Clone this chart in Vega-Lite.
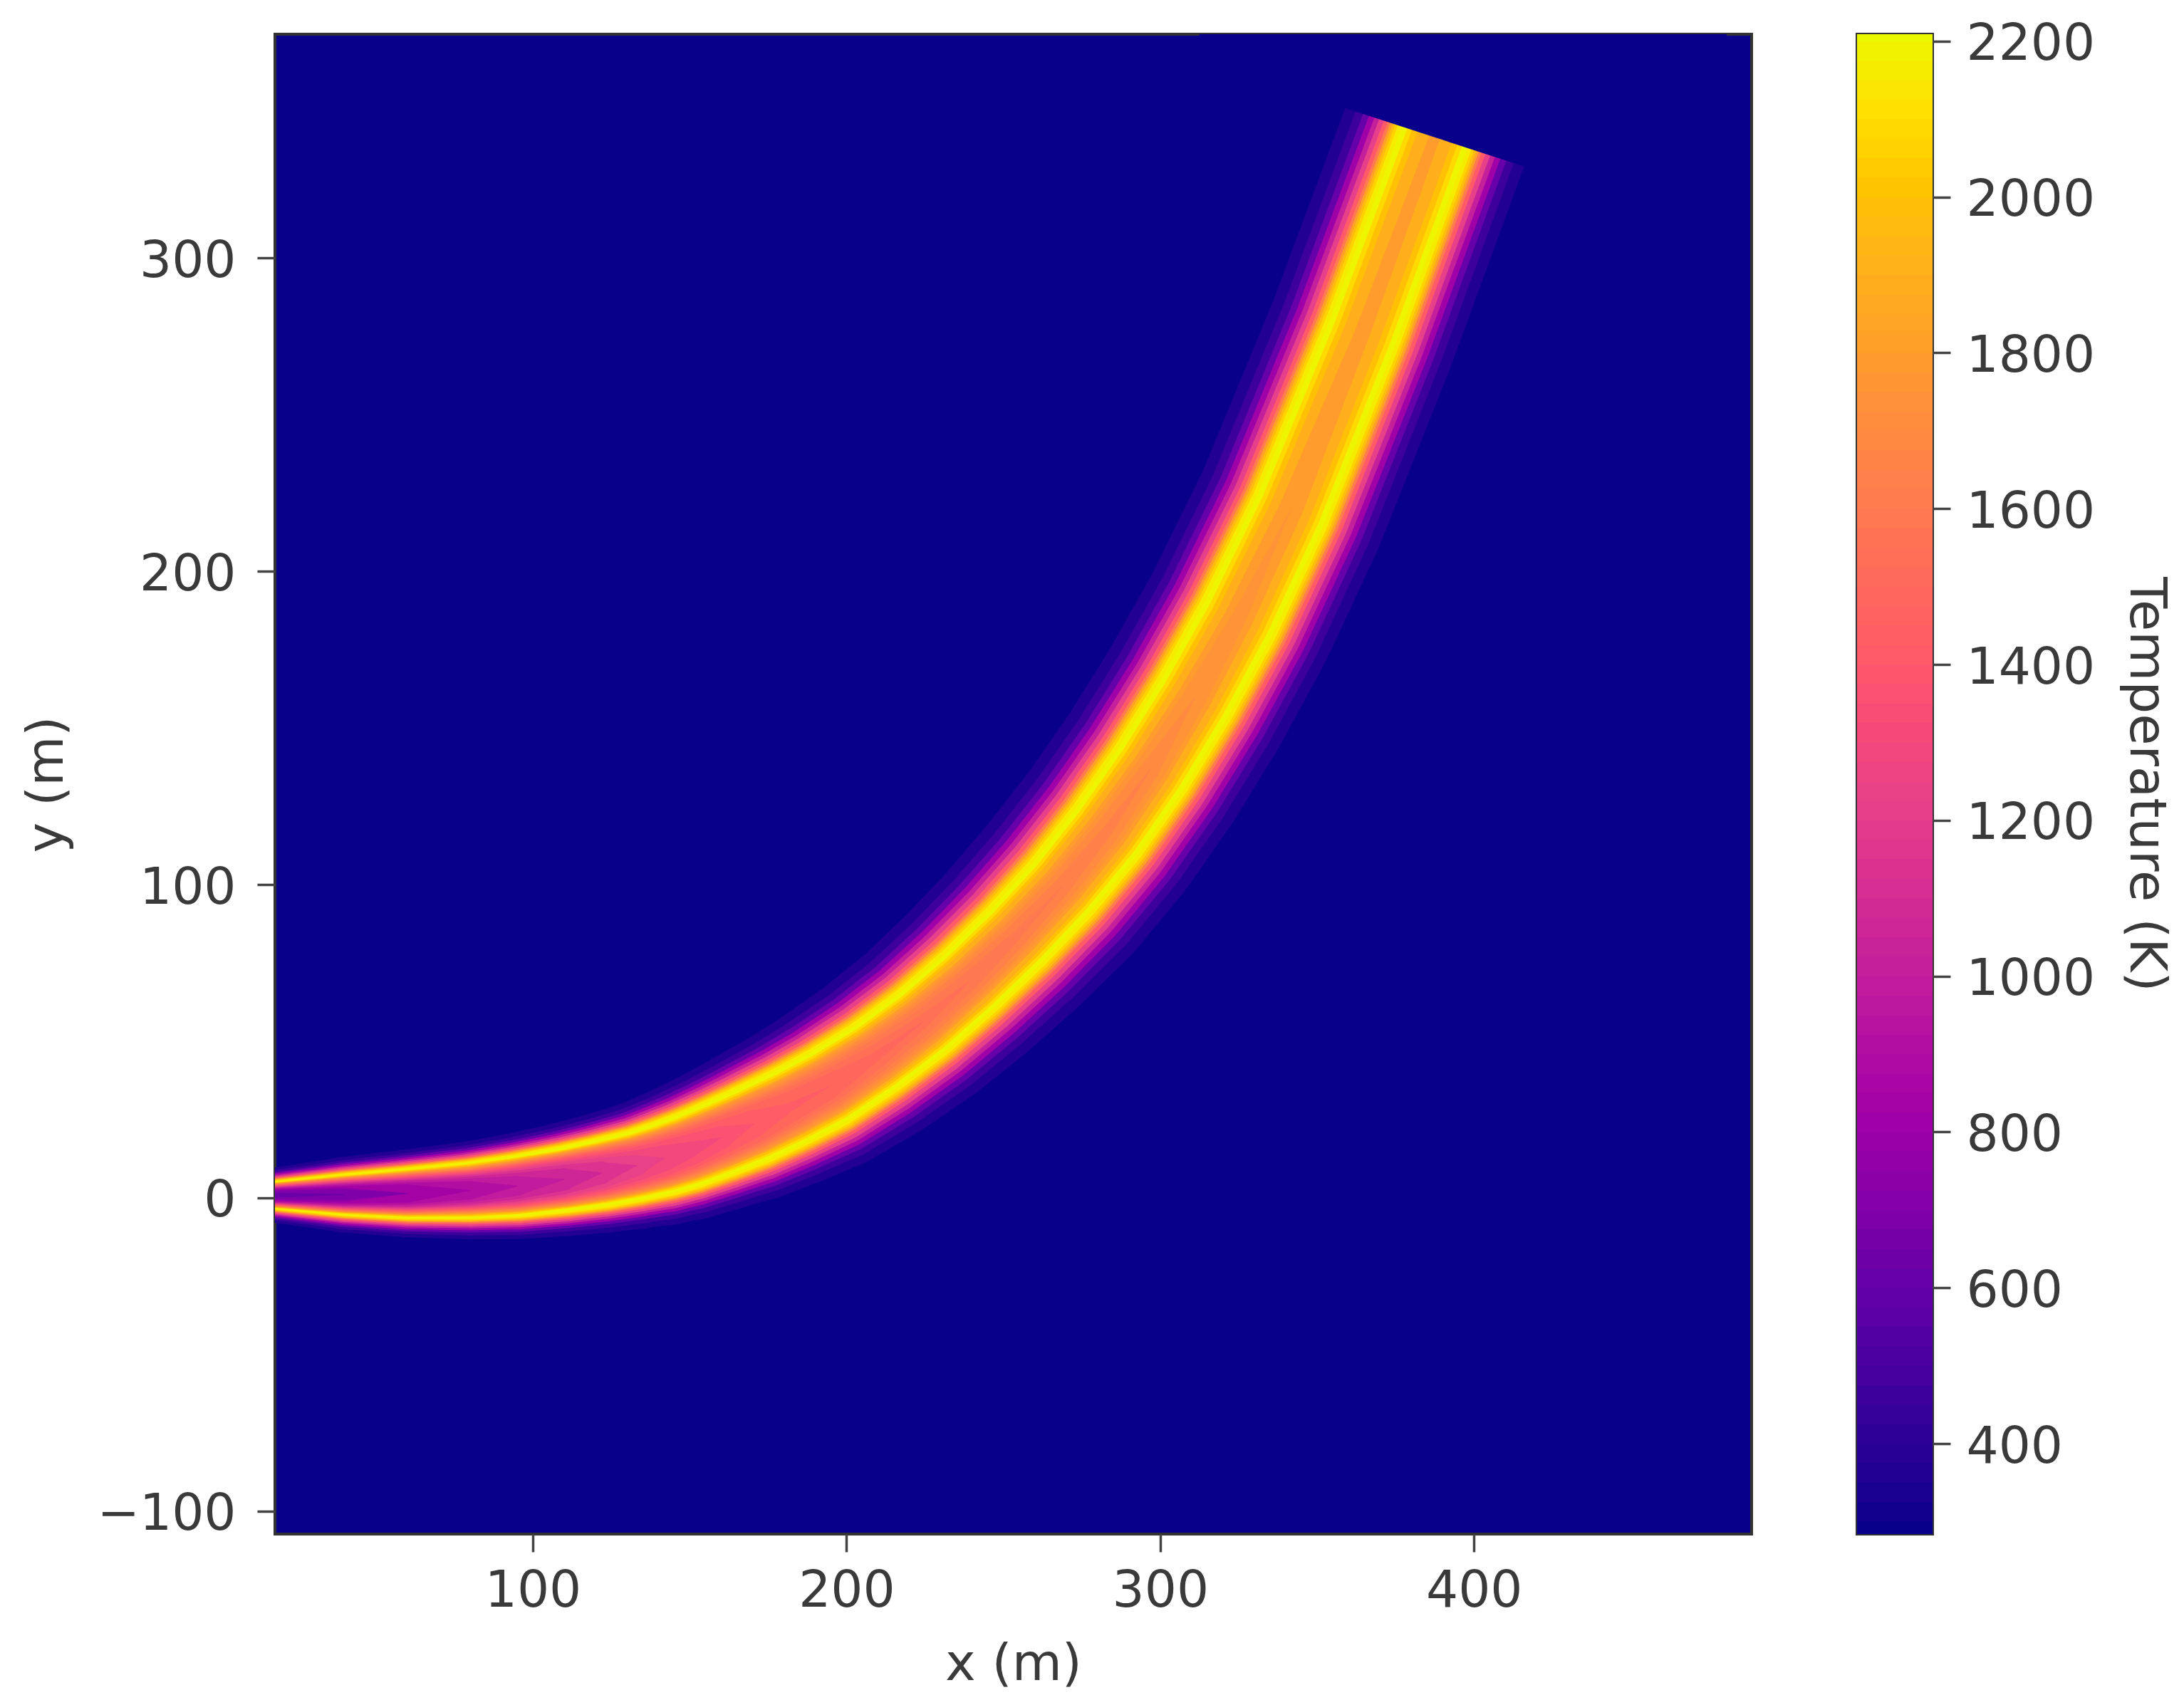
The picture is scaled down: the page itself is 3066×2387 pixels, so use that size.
{
"$schema":"https://vega.github.io/schema/vega-lite/v6.json",
"background":"white",
"padding":{"left":27,"top":24,"right":10,"bottom":10},
"spacing":144,
"config":{"view":{"stroke":"#333333","strokeWidth":4,"fill":"#08008a"},
"axis":{"grid":false,"domain":false,"tickSize":25,"tickWidth":3.5,"tickColor":"#444444","labelFont":"DejaVu Sans","labelFontSize":71,"labelColor":"#3a3a3a","labelLimit":400,"titleFont":"DejaVu Sans","titleFontSize":72,"titleFontWeight":"normal","titleColor":"#3a3a3a"}},
"datasets":{
"stations":[{"s":"A","x":10,"y":0.8},{"s":"B","x":40,"y":1},{"s":"a","x":60,"y":1.4},{"s":"C","x":80,"y":2.4},{"s":"b","x":95,"y":3.8},{"s":"D","x":110,"y":5.9},{"s":"c","x":122,"y":8},{"s":"E","x":133,"y":10.3},{"s":"d","x":142,"y":12.7},{"s":"F","x":150,"y":15.3},{"s":"e","x":160,"y":19.2},{"s":"G","x":170.5,"y":23.6},{"s":"f","x":182,"y":29},{"s":"H","x":194.1,"y":35.3},{"s":"I","x":209,"y":44.8},{"s":"J","x":224.1,"y":56},{"s":"K","x":239,"y":69},{"s":"L","x":254,"y":83.5},{"s":"M","x":268.8,"y":99.4},{"s":"N","x":283,"y":117},{"s":"O","x":297,"y":137},{"s":"P","x":310.9,"y":159.5},{"s":"Q","x":325,"y":185},{"s":"R","x":341.5,"y":219.5},{"s":"S","x":364.4,"y":276},{"s":"T","x":389.5,"y":344}],
"plume":[
{"T":350,"s":"A","w":15.4},{"T":350,"s":"B","w":24.2},{"T":350,"s":"a","w":28.1},{"T":350,"s":"C","w":31.3},{"T":350,"s":"b","w":34},{"T":350,"s":"D","w":36.4},{"T":350,"s":"c","w":38.5},{"T":350,"s":"E","w":40.6},{"T":350,"s":"d","w":43.1},{"T":350,"s":"F","w":44.9},{"T":350,"s":"e","w":47},{"T":350,"s":"G","w":49.5},{"T":350,"s":"f","w":51.4},{"T":350,"s":"H","w":53.7},{"T":350,"s":"I","w":55.2},{"T":350,"s":"J","w":56.7},{"T":350,"s":"K","w":58.4},{"T":350,"s":"L","w":60.1},{"T":350,"s":"M","w":62},{"T":350,"s":"N","w":62.6},{"T":350,"s":"O","w":62.6},{"T":350,"s":"P","w":62.4},{"T":350,"s":"Q","w":62},{"T":350,"s":"R","w":61.2},{"T":350,"s":"S","w":60.4},{"T":350,"s":"T","w":60},
{"T":450,"s":"A","w":13.8},{"T":450,"s":"B","w":22.1},{"T":450,"s":"a","w":25.8},{"T":450,"s":"C","w":28.8},{"T":450,"s":"b","w":31.3},{"T":450,"s":"D","w":33.4},{"T":450,"s":"c","w":35.4},{"T":450,"s":"E","w":37.2},{"T":450,"s":"d","w":39.4},{"T":450,"s":"F","w":41},{"T":450,"s":"e","w":42.8},{"T":450,"s":"G","w":45},{"T":450,"s":"f","w":46.5},{"T":450,"s":"H","w":48.4},{"T":450,"s":"I","w":49.4},{"T":450,"s":"J","w":50.6},{"T":450,"s":"K","w":51.9},{"T":450,"s":"L","w":53.4},{"T":450,"s":"M","w":55},{"T":450,"s":"N","w":55.6},{"T":450,"s":"O","w":55.6},{"T":450,"s":"P","w":55.4},{"T":450,"s":"Q","w":55},{"T":450,"s":"R","w":54.2},{"T":450,"s":"S","w":53.4},{"T":450,"s":"T","w":53},
{"T":600,"s":"A","w":12.7},{"T":600,"s":"B","w":20.6},{"T":600,"s":"a","w":24.2},{"T":600,"s":"C","w":27},{"T":600,"s":"b","w":29.3},{"T":600,"s":"D","w":31.3},{"T":600,"s":"c","w":33.1},{"T":600,"s":"E","w":34.7},{"T":600,"s":"d","w":36.8},{"T":600,"s":"F","w":38.2},{"T":600,"s":"e","w":39.8},{"T":600,"s":"G","w":41.7},{"T":600,"s":"f","w":43},{"T":600,"s":"H","w":44.6},{"T":600,"s":"I","w":45.3},{"T":600,"s":"J","w":46.2},{"T":600,"s":"K","w":47.3},{"T":600,"s":"L","w":48.6},{"T":600,"s":"M","w":50},{"T":600,"s":"N","w":50.6},{"T":600,"s":"O","w":50.6},{"T":600,"s":"P","w":50.4},{"T":600,"s":"Q","w":50},{"T":600,"s":"R","w":49.2},{"T":600,"s":"S","w":48.4},{"T":600,"s":"T","w":48},
{"T":800,"s":"A","w":11.8},{"T":800,"s":"B","w":19.4},{"T":800,"s":"a","w":22.9},{"T":800,"s":"C","w":25.5},{"T":800,"s":"b","w":27.8},{"T":800,"s":"D","w":29.6},{"T":800,"s":"c","w":31.3},{"T":800,"s":"E","w":32.8},{"T":800,"s":"d","w":34.7},{"T":800,"s":"F","w":35.9},{"T":800,"s":"e","w":37.4},{"T":800,"s":"G","w":39.1},{"T":800,"s":"f","w":40.2},{"T":800,"s":"H","w":41.5},{"T":800,"s":"I","w":42},{"T":800,"s":"J","w":42.7},{"T":800,"s":"K","w":43.6},{"T":800,"s":"L","w":44.7},{"T":800,"s":"M","w":46},{"T":800,"s":"N","w":46.6},{"T":800,"s":"O","w":46.6},{"T":800,"s":"P","w":46.4},{"T":800,"s":"Q","w":46},{"T":800,"s":"R","w":45.2},{"T":800,"s":"S","w":44.4},{"T":800,"s":"T","w":44},
{"T":1000,"s":"A","w":11},{"T":1000,"s":"B","w":18.3},{"T":1000,"s":"a","w":21.7},{"T":1000,"s":"C","w":24.2},{"T":1000,"s":"b","w":26.4},{"T":1000,"s":"D","w":28.1},{"T":1000,"s":"c","w":29.7},{"T":1000,"s":"E","w":31},{"T":1000,"s":"d","w":32.8},{"T":1000,"s":"F","w":33.9},{"T":1000,"s":"e","w":35.2},{"T":1000,"s":"G","w":36.8},{"T":1000,"s":"f","w":37.7},{"T":1000,"s":"H","w":38.8},{"T":1000,"s":"I","w":39.1},{"T":1000,"s":"J","w":39.6},{"T":1000,"s":"K","w":40.3},{"T":1000,"s":"L","w":41.3},{"T":1000,"s":"M","w":42.4},{"T":1000,"s":"N","w":43},{"T":1000,"s":"O","w":43},{"T":1000,"s":"P","w":42.8},{"T":1000,"s":"Q","w":42.4},{"T":1000,"s":"R","w":41.6},{"T":1000,"s":"S","w":40.8},{"T":1000,"s":"T","w":40.4},
{"T":1200,"s":"A","w":10.3},{"T":1200,"s":"B","w":17.4},{"T":1200,"s":"a","w":20.6},{"T":1200,"s":"C","w":23.1},{"T":1200,"s":"b","w":25.1},{"T":1200,"s":"D","w":26.8},{"T":1200,"s":"c","w":28.2},{"T":1200,"s":"E","w":29.4},{"T":1200,"s":"d","w":31.1},{"T":1200,"s":"F","w":32.1},{"T":1200,"s":"e","w":33.3},{"T":1200,"s":"G","w":34.7},{"T":1200,"s":"f","w":35.4},{"T":1200,"s":"H","w":36.4},{"T":1200,"s":"I","w":36.5},{"T":1200,"s":"J","w":36.8},{"T":1200,"s":"K","w":37.4},{"T":1200,"s":"L","w":38.2},{"T":1200,"s":"M","w":39.2},{"T":1200,"s":"N","w":39.8},{"T":1200,"s":"O","w":39.8},{"T":1200,"s":"P","w":39.6},{"T":1200,"s":"Q","w":39.2},{"T":1200,"s":"R","w":38.4},{"T":1200,"s":"S","w":37.6},{"T":1200,"s":"T","w":37.2},
{"T":1400,"s":"A","w":9.6},{"T":1400,"s":"B","w":16.4},{"T":1400,"s":"a","w":19.6},{"T":1400,"s":"C","w":21.9},{"T":1400,"s":"b","w":23.9},{"T":1400,"s":"D","w":25.4},{"T":1400,"s":"c","w":26.8},{"T":1400,"s":"E","w":27.9},{"T":1400,"s":"d","w":29.4},{"T":1400,"s":"F","w":30.3},{"T":1400,"s":"e","w":31.4},{"T":1400,"s":"G","w":32.6},{"T":1400,"s":"f","w":33.2},{"T":1400,"s":"H","w":33.9},{"T":1400,"s":"I","w":33.8},{"T":1400,"s":"J","w":34},{"T":1400,"s":"K","w":34.4},{"T":1400,"s":"L","w":35.1},{"T":1400,"s":"M","w":36},{"T":1400,"s":"N","w":36.6},{"T":1400,"s":"O","w":36.6},{"T":1400,"s":"P","w":36.4},{"T":1400,"s":"Q","w":36},{"T":1400,"s":"R","w":35.2},{"T":1400,"s":"S","w":34.4},{"T":1400,"s":"T","w":34},
{"T":1600,"s":"A","w":9.1},{"T":1600,"s":"B","w":15.6},{"T":1600,"s":"a","w":18.7},{"T":1600,"s":"C","w":21},{"T":1600,"s":"b","w":22.9},{"T":1600,"s":"D","w":24.3},{"T":1600,"s":"c","w":25.6},{"T":1600,"s":"E","w":26.6},{"T":1600,"s":"d","w":28},{"T":1600,"s":"F","w":28.9},{"T":1600,"s":"e","w":29.8},{"T":1600,"s":"G","w":30.9},{"T":1600,"s":"f","w":31.4},{"T":1600,"s":"H","w":31.9},{"T":1600,"s":"I","w":31.7},{"T":1600,"s":"J","w":31.8},{"T":1600,"s":"K","w":32},{"T":1600,"s":"L","w":32.6},{"T":1600,"s":"M","w":33.4},{"T":1600,"s":"N","w":34},{"T":1600,"s":"O","w":34},{"T":1600,"s":"P","w":33.8},{"T":1600,"s":"Q","w":33.4},{"T":1600,"s":"R","w":32.6},{"T":1600,"s":"S","w":31.8},{"T":1600,"s":"T","w":31.4},
{"T":1800,"s":"A","w":8.7},{"T":1800,"s":"B","w":15.1},{"T":1800,"s":"a","w":18.1},{"T":1800,"s":"C","w":20.3},{"T":1800,"s":"b","w":22.2},{"T":1800,"s":"D","w":23.6},{"T":1800,"s":"c","w":24.8},{"T":1800,"s":"E","w":25.7},{"T":1800,"s":"d","w":27},{"T":1800,"s":"F","w":27.9},{"T":1800,"s":"e","w":28.8},{"T":1800,"s":"G","w":29.7},{"T":1800,"s":"f","w":30.1},{"T":1800,"s":"H","w":30.6},{"T":1800,"s":"I","w":30.2},{"T":1800,"s":"J","w":30.2},{"T":1800,"s":"K","w":30.4},{"T":1800,"s":"L","w":30.9},{"T":1800,"s":"M","w":31.6},{"T":1800,"s":"N","w":32.2},{"T":1800,"s":"O","w":32.2},{"T":1800,"s":"P","w":32},{"T":1800,"s":"Q","w":31.6},{"T":1800,"s":"R","w":30.8},{"T":1800,"s":"S","w":30},{"T":1800,"s":"T","w":29.6},
{"T":1950,"s":"A","w":8.3},{"T":1950,"s":"B","w":14.6},{"T":1950,"s":"a","w":17.6},{"T":1950,"s":"C","w":19.8},{"T":1950,"s":"b","w":21.5},{"T":1950,"s":"D","w":22.9},{"T":1950,"s":"c","w":24.1},{"T":1950,"s":"E","w":24.9},{"T":1950,"s":"d","w":26.2},{"T":1950,"s":"F","w":27},{"T":1950,"s":"e","w":27.8},{"T":1950,"s":"G","w":28.7},{"T":1950,"s":"f","w":29},{"T":1950,"s":"H","w":29.4},{"T":1950,"s":"I","w":28.9},{"T":1950,"s":"J","w":28.8},{"T":1950,"s":"K","w":28.9},{"T":1950,"s":"L","w":29.4},{"T":1950,"s":"M","w":30},{"T":1950,"s":"N","w":30.6},{"T":1950,"s":"O","w":30.6},{"T":1950,"s":"P","w":30.4},{"T":1950,"s":"Q","w":30},{"T":1950,"s":"R","w":29.2},{"T":1950,"s":"S","w":28.4},{"T":1950,"s":"T","w":28},
{"T":2050,"s":"A","w":8},{"T":2050,"s":"B","w":14.1},{"T":2050,"s":"a","w":17.1},{"T":2050,"s":"C","w":19.2},{"T":2050,"s":"b","w":20.9},{"T":2050,"s":"D","w":22.2},{"T":2050,"s":"c","w":23.4},{"T":2050,"s":"E","w":24.2},{"T":2050,"s":"d","w":25.3},{"T":2050,"s":"F","w":26.1},{"T":2050,"s":"e","w":26.8},{"T":2050,"s":"G","w":27.7},{"T":2050,"s":"f","w":27.9},{"T":2050,"s":"H","w":28.1},{"T":2050,"s":"I","w":27.6},{"T":2050,"s":"J","w":27.4},{"T":2050,"s":"K","w":27.4},{"T":2050,"s":"L","w":27.8},{"T":2050,"s":"M","w":28.4},{"T":2050,"s":"N","w":29},{"T":2050,"s":"O","w":29},{"T":2050,"s":"P","w":28.8},{"T":2050,"s":"Q","w":28.4},{"T":2050,"s":"R","w":27.6},{"T":2050,"s":"S","w":26.8},{"T":2050,"s":"T","w":26.4},
{"T":2150,"s":"A","w":7.6},{"T":2150,"s":"B","w":13.6},{"T":2150,"s":"a","w":16.5},{"T":2150,"s":"C","w":18.5},{"T":2150,"s":"b","w":20.2},{"T":2150,"s":"D","w":21.5},{"T":2150,"s":"c","w":22.6},{"T":2150,"s":"E","w":23.3},{"T":2150,"s":"d","w":24.4},{"T":2150,"s":"F","w":25.1},{"T":2150,"s":"e","w":25.8},{"T":2150,"s":"G","w":26.5},{"T":2150,"s":"f","w":26.6},{"T":2150,"s":"H","w":26.8},{"T":2150,"s":"I","w":26.1},{"T":2150,"s":"J","w":25.9},{"T":2150,"s":"K","w":25.8},{"T":2150,"s":"L","w":26.1},{"T":2150,"s":"M","w":26.6},{"T":2150,"s":"N","w":27.2},{"T":2150,"s":"O","w":27.2},{"T":2150,"s":"P","w":27},{"T":2150,"s":"Q","w":26.6},{"T":2150,"s":"R","w":25.8},{"T":2150,"s":"S","w":25},{"T":2150,"s":"T","w":24.6},
{"T":2190,"s":"A","w":7},{"T":2190,"s":"B","w":12.8},{"T":2190,"s":"a","w":15.6},{"T":2190,"s":"C","w":17.6},{"T":2190,"s":"b","w":19.2},{"T":2190,"s":"D","w":20.4},{"T":2190,"s":"c","w":21.4},{"T":2190,"s":"E","w":22},{"T":2190,"s":"d","w":23},{"T":2190,"s":"F","w":23.6},{"T":2190,"s":"e","w":24.2},{"T":2190,"s":"G","w":24.8},{"T":2190,"s":"f","w":24.8},{"T":2190,"s":"H","w":24.8},{"T":2190,"s":"I","w":24},{"T":2190,"s":"J","w":23.6},{"T":2190,"s":"K","w":23.4},{"T":2190,"s":"L","w":23.6},{"T":2190,"s":"M","w":24},{"T":2190,"s":"N","w":24.6},{"T":2190,"s":"O","w":24.6},{"T":2190,"s":"P","w":24.4},{"T":2190,"s":"Q","w":24},{"T":2190,"s":"R","w":23.2},{"T":2190,"s":"S","w":22.4},{"T":2190,"s":"T","w":22},
{"T":2080,"s":"A","w":6.8},{"T":2080,"s":"B","w":12.4},{"T":2080,"s":"a","w":15},{"T":2080,"s":"C","w":16.9},{"T":2080,"s":"b","w":18},{"T":2080,"s":"D","w":18.7},{"T":2080,"s":"c","w":19.6},{"T":2080,"s":"E","w":20.1},{"T":2080,"s":"d","w":21},{"T":2080,"s":"F","w":21.5},{"T":2080,"s":"e","w":21.9},{"T":2080,"s":"G","w":22.4},{"T":2080,"s":"f","w":22.4},{"T":2080,"s":"H","w":22.3},{"T":2080,"s":"I","w":21.4},{"T":2080,"s":"J","w":21},{"T":2080,"s":"K","w":20.7},{"T":2080,"s":"L","w":20.8},{"T":2080,"s":"M","w":21},{"T":2080,"s":"N","w":21.5},{"T":2080,"s":"O","w":21.4},{"T":2080,"s":"P","w":21},{"T":2080,"s":"Q","w":20.5},{"T":2080,"s":"R","w":19.7},{"T":2080,"s":"S","w":18.8},{"T":2080,"s":"T","w":18.3},
{"T":1980,"s":"A","w":6.6},{"T":1980,"s":"B","w":11.9},{"T":1980,"s":"a","w":14.5},{"T":1980,"s":"C","w":16.2},{"T":1980,"s":"b","w":17.6},{"T":1980,"s":"D","w":18.1},{"T":1980,"s":"c","w":18.8},{"T":1980,"s":"E","w":19.2},{"T":1980,"s":"d","w":19.9},{"T":1980,"s":"F","w":20.3},{"T":1980,"s":"e","w":20.7},{"T":1980,"s":"G","w":21},{"T":1980,"s":"f","w":20.9},{"T":1980,"s":"H","w":20.7},{"T":1980,"s":"I","w":19.8},{"T":1980,"s":"J","w":19.3},{"T":1980,"s":"K","w":18.9},{"T":1980,"s":"L","w":18.8},{"T":1980,"s":"M","w":18.9},{"T":1980,"s":"N","w":19.2},{"T":1980,"s":"O","w":18.9},{"T":1980,"s":"P","w":18.4},{"T":1980,"s":"Q","w":17.7},{"T":1980,"s":"R","w":16.8},{"T":1980,"s":"S","w":15.7},{"T":1980,"s":"T","w":15.2},
{"T":1880,"s":"A","w":6.4},{"T":1880,"s":"B","w":11.5},{"T":1880,"s":"a","w":13.9},{"T":1880,"s":"C","w":15.5},{"T":1880,"s":"b","w":16.7},{"T":1880,"s":"D","w":17.6},{"T":1880,"s":"c","w":18.2},{"T":1880,"s":"E","w":18.4},{"T":1880,"s":"d","w":19},{"T":1880,"s":"F","w":19.3},{"T":1880,"s":"e","w":19.5},{"T":1880,"s":"G","w":19.7},{"T":1880,"s":"f","w":19.4},{"T":1880,"s":"H","w":19.2},{"T":1880,"s":"I","w":18.2},{"T":1880,"s":"J","w":17.5},{"T":1880,"s":"K","w":17.1},{"T":1880,"s":"L","w":16.8},{"T":1880,"s":"M","w":16.7},{"T":1880,"s":"N","w":16.8},{"T":1880,"s":"O","w":16.2},{"T":1880,"s":"P","w":15.4},{"T":1880,"s":"Q","w":14.4},{"T":1880,"s":"R","w":13.4},{"T":1880,"s":"S","w":12},{"T":1880,"s":"T","w":11.4},
{"T":1780,"s":"A","w":6.3},{"T":1780,"s":"B","w":11.2},{"T":1780,"s":"a","w":13.7},{"T":1780,"s":"C","w":15.1},{"T":1780,"s":"b","w":16.3},{"T":1780,"s":"D","w":17.2},{"T":1780,"s":"c","w":17.7},{"T":1780,"s":"E","w":17.8},{"T":1780,"s":"d","w":18.4},{"T":1780,"s":"F","w":18.6},{"T":1780,"s":"e","w":18.8},{"T":1780,"s":"G","w":18.9},{"T":1780,"s":"f","w":18.4},{"T":1780,"s":"H","w":18.1},{"T":1780,"s":"I","w":16.8},{"T":1780,"s":"J","w":15.5},{"T":1780,"s":"K","w":14.3},{"T":1780,"s":"L","w":13.8},{"T":1780,"s":"M","w":13.4},{"T":1780,"s":"N","w":13.2},{"T":1780,"s":"O","w":12.2},{"T":1780,"s":"P","w":10.9},{"T":1780,"s":"Q","w":9.3},{"T":1780,"s":"R","w":7.7},{"T":1780,"s":"S","w":4.9},{"T":1780,"s":"T","w":3.4},
{"T":1730,"s":"A","w":6.1},{"T":1730,"s":"B","w":11.1},{"T":1730,"s":"a","w":13.3},{"T":1730,"s":"C","w":14.7},{"T":1730,"s":"b","w":15.9},{"T":1730,"s":"D","w":16.7},{"T":1730,"s":"c","w":17.1},{"T":1730,"s":"E","w":17.2},{"T":1730,"s":"d","w":17.7},{"T":1730,"s":"F","w":17.9},{"T":1730,"s":"e","w":18},{"T":1730,"s":"G","w":18},{"T":1730,"s":"f","w":17.4},{"T":1730,"s":"H","w":16.9},{"T":1730,"s":"I","w":15.2},{"T":1730,"s":"J","w":14},{"T":1730,"s":"K","w":12.8},{"T":1730,"s":"L","w":12.1},{"T":1730,"s":"M","w":11.4},{"T":1730,"s":"N","w":10.9},{"T":1730,"s":"O","w":9.6},{"T":1730,"s":"P","w":7.7},{"T":1730,"s":"Q","w":4.9},{"T":1730,"s":"R","w":0},
{"T":1680,"s":"A","w":5.9},{"T":1680,"s":"B","w":10.9},{"T":1680,"s":"a","w":13},{"T":1680,"s":"C","w":14.2},{"T":1680,"s":"b","w":15.4},{"T":1680,"s":"D","w":16.2},{"T":1680,"s":"c","w":16.6},{"T":1680,"s":"E","w":16.7},{"T":1680,"s":"d","w":17},{"T":1680,"s":"F","w":17.1},{"T":1680,"s":"e","w":17.1},{"T":1680,"s":"G","w":17},{"T":1680,"s":"f","w":16.2},{"T":1680,"s":"H","w":15.7},{"T":1680,"s":"I","w":14},{"T":1680,"s":"J","w":12.6},{"T":1680,"s":"K","w":11.3},{"T":1680,"s":"L","w":10},{"T":1680,"s":"M","w":8.9},{"T":1680,"s":"N","w":8},{"T":1680,"s":"O","w":5.9},{"T":1680,"s":"P","w":0},
{"T":1630,"s":"A","w":5.8},{"T":1630,"s":"B","w":10.6},{"T":1630,"s":"a","w":12.7},{"T":1630,"s":"C","w":13.8},{"T":1630,"s":"b","w":15},{"T":1630,"s":"D","w":15.7},{"T":1630,"s":"c","w":16.1},{"T":1630,"s":"E","w":16.1},{"T":1630,"s":"d","w":16.3},{"T":1630,"s":"F","w":16.3},{"T":1630,"s":"e","w":16.2},{"T":1630,"s":"G","w":16},{"T":1630,"s":"f","w":14.9},{"T":1630,"s":"H","w":14.3},{"T":1630,"s":"I","w":12.4},{"T":1630,"s":"J","w":10.6},{"T":1630,"s":"K","w":9},{"T":1630,"s":"L","w":7.4},{"T":1630,"s":"M","w":5.4},{"T":1630,"s":"N","w":3.3},{"T":1630,"s":"O","w":0},
{"T":1580,"s":"A","w":5.7},{"T":1580,"s":"B","w":10.3},{"T":1580,"s":"a","w":12.4},{"T":1580,"s":"C","w":13.4},{"T":1580,"s":"b","w":14.6},{"T":1580,"s":"D","w":15.2},{"T":1580,"s":"c","w":15.5},{"T":1580,"s":"E","w":15.4},{"T":1580,"s":"d","w":15.6},{"T":1580,"s":"F","w":15.5},{"T":1580,"s":"e","w":15.2},{"T":1580,"s":"G","w":14.8},{"T":1580,"s":"f","w":13.5},{"T":1580,"s":"H","w":12.7},{"T":1580,"s":"I","w":10.4},{"T":1580,"s":"J","w":8},{"T":1580,"s":"K","w":5.9},{"T":1580,"s":"L","w":3},{"T":1580,"s":"M","w":0},
{"T":1530,"s":"A","w":5.5},{"T":1530,"s":"B","w":10},{"T":1530,"s":"a","w":12.1},{"T":1530,"s":"C","w":13},{"T":1530,"s":"b","w":14.2},{"T":1530,"s":"D","w":14.8},{"T":1530,"s":"c","w":15},{"T":1530,"s":"E","w":14.7},{"T":1530,"s":"d","w":14.8},{"T":1530,"s":"F","w":14.6},{"T":1530,"s":"e","w":14.2},{"T":1530,"s":"G","w":13.6},{"T":1530,"s":"f","w":11.8},{"T":1530,"s":"H","w":10.7},{"T":1530,"s":"I","w":7.7},{"T":1530,"s":"J","w":4.1},{"T":1530,"s":"K","w":0},
{"T":1480,"s":"A","w":5.4},{"T":1480,"s":"B","w":9.8},{"T":1480,"s":"a","w":11.8},{"T":1480,"s":"C","w":12.8},{"T":1480,"s":"b","w":13.9},{"T":1480,"s":"D","w":14.4},{"T":1480,"s":"c","w":14.4},{"T":1480,"s":"E","w":14},{"T":1480,"s":"d","w":13.9},{"T":1480,"s":"F","w":13.6},{"T":1480,"s":"e","w":13},{"T":1480,"s":"G","w":12},{"T":1480,"s":"f","w":9.6},{"T":1480,"s":"H","w":8},{"T":1480,"s":"I","w":3},{"T":1480,"s":"J","w":0},
{"T":1410,"s":"A","w":5.2},{"T":1410,"s":"B","w":9.5},{"T":1410,"s":"a","w":11.4},{"T":1410,"s":"C","w":12.3},{"T":1410,"s":"b","w":13.3},{"T":1410,"s":"D","w":13.7},{"T":1410,"s":"c","w":13.6},{"T":1410,"s":"E","w":12.9},{"T":1410,"s":"d","w":12.6},{"T":1410,"s":"F","w":12},{"T":1410,"s":"e","w":10.9},{"T":1410,"s":"G","w":8.8},{"T":1410,"s":"f","w":2.7},{"T":1410,"s":"H","w":0},
{"T":1350,"s":"A","w":5},{"T":1350,"s":"B","w":9.2},{"T":1350,"s":"a","w":11},{"T":1350,"s":"C","w":11.8},{"T":1350,"s":"b","w":12.7},{"T":1350,"s":"D","w":13},{"T":1350,"s":"c","w":12.7},{"T":1350,"s":"E","w":11.6},{"T":1350,"s":"d","w":11},{"T":1350,"s":"F","w":10},{"T":1350,"s":"e","w":7.5},{"T":1350,"s":"G","w":0},
{"T":1280,"s":"A","w":4.8},{"T":1280,"s":"B","w":8.9},{"T":1280,"s":"a","w":10.5},{"T":1280,"s":"C","w":11.2},{"T":1280,"s":"b","w":11.9},{"T":1280,"s":"D","w":12},{"T":1280,"s":"c","w":11.4},{"T":1280,"s":"E","w":9.8},{"T":1280,"s":"d","w":8.2},{"T":1280,"s":"F","w":5.2},{"T":1280,"s":"e","w":0},
{"T":1210,"s":"A","w":4.6},{"T":1210,"s":"B","w":8.5},{"T":1210,"s":"a","w":10},{"T":1210,"s":"C","w":10.5},{"T":1210,"s":"b","w":11},{"T":1210,"s":"D","w":11},{"T":1210,"s":"c","w":9.8},{"T":1210,"s":"E","w":6.8},{"T":1210,"s":"d","w":0},
{"T":1130,"s":"A","w":4.4},{"T":1130,"s":"B","w":8},{"T":1130,"s":"a","w":9.4},{"T":1130,"s":"C","w":9.8},{"T":1130,"s":"b","w":9.9},{"T":1130,"s":"D","w":9.4},{"T":1130,"s":"c","w":7.1},{"T":1130,"s":"E","w":0},
{"T":1050,"s":"A","w":4.1},{"T":1050,"s":"B","w":7.5},{"T":1050,"s":"a","w":8.7},{"T":1050,"s":"C","w":8.8},{"T":1050,"s":"b","w":8.4},{"T":1050,"s":"D","w":7.1},{"T":1050,"s":"c","w":0},
{"T":975,"s":"A","w":3.9},{"T":975,"s":"B","w":7},{"T":975,"s":"a","w":8},{"T":975,"s":"C","w":7.6},{"T":975,"s":"b","w":6.3},{"T":975,"s":"D","w":0},
{"T":900,"s":"A","w":3.6},{"T":900,"s":"B","w":6.4},{"T":900,"s":"a","w":7},{"T":900,"s":"C","w":5.9},{"T":900,"s":"b","w":0},
{"T":825,"s":"A","w":3.2},{"T":825,"s":"B","w":5.6},{"T":825,"s":"a","w":5.8},{"T":825,"s":"C","w":0},
{"T":750,"s":"A","w":2.9},{"T":750,"s":"B","w":4.6},{"T":750,"s":"a","w":0},
{"T":680,"s":"A","w":2.5},{"T":680,"s":"B","w":3.5},{"T":680,"s":"a","w":0},
{"T":610,"s":"A","w":2.1},{"T":610,"s":"B","w":0}
],
"cut":[{"x":322.4,"y":401.8,"T":284},{"x":474.4,"y":352.2,"T":284}],
"bar":[{"a":284,"b":310},{"a":300,"b":335},{"a":325,"b":360},{"a":350,"b":385},{"a":375,"b":410},{"a":400,"b":435},{"a":425,"b":460},{"a":450,"b":485},{"a":475,"b":510},{"a":500,"b":535},{"a":525,"b":560},{"a":550,"b":585},{"a":575,"b":610},{"a":600,"b":635},{"a":625,"b":660},{"a":650,"b":685},{"a":675,"b":710},{"a":700,"b":735},{"a":725,"b":760},{"a":750,"b":785},{"a":775,"b":810},{"a":800,"b":835},{"a":825,"b":860},{"a":850,"b":885},{"a":875,"b":910},{"a":900,"b":935},{"a":925,"b":960},{"a":950,"b":985},{"a":975,"b":1010},{"a":1000,"b":1035},{"a":1025,"b":1060},{"a":1050,"b":1085},{"a":1075,"b":1110},{"a":1100,"b":1135},{"a":1125,"b":1160},{"a":1150,"b":1185},{"a":1175,"b":1210},{"a":1200,"b":1235},{"a":1225,"b":1260},{"a":1250,"b":1285},{"a":1275,"b":1310},{"a":1300,"b":1335},{"a":1325,"b":1360},{"a":1350,"b":1385},{"a":1375,"b":1410},{"a":1400,"b":1435},{"a":1425,"b":1460},{"a":1450,"b":1485},{"a":1475,"b":1510},{"a":1500,"b":1535},{"a":1525,"b":1560},{"a":1550,"b":1585},{"a":1575,"b":1610},{"a":1600,"b":1635},{"a":1625,"b":1660},{"a":1650,"b":1685},{"a":1675,"b":1710},{"a":1700,"b":1735},{"a":1725,"b":1760},{"a":1750,"b":1785},{"a":1775,"b":1810},{"a":1800,"b":1835},{"a":1825,"b":1860},{"a":1850,"b":1885},{"a":1875,"b":1910},{"a":1900,"b":1935},{"a":1925,"b":1960},{"a":1950,"b":1985},{"a":1975,"b":2010},{"a":2000,"b":2035},{"a":2025,"b":2060},{"a":2050,"b":2085},{"a":2075,"b":2110},{"a":2100,"b":2135},{"a":2125,"b":2160},{"a":2150,"b":2185},{"a":2175,"b":2209},{"a":2200,"b":2209}]
},
"hconcat":[
{"width":2073,"height":2106,
"encoding":{
"x":{"field":"x","type":"quantitative","title":"x (m)","scale":{"domain":[17.8,488.5],"nice":false,"zero":false},"axis":{"values":[100,200,300,400],"format":"d","labelPadding":20,"titlePadding":32}},
"y":{"field":"y","type":"quantitative","title":"y (m)","scale":{"domain":[-107.3,371.4],"nice":false,"zero":false},"axis":{"values":[-100,0,100,200,300],"format":"d","labelPadding":30,"labelOffset":5,"titlePadding":84}},
"color":{"field":"T","type":"quantitative","scale":{"domain":[284,400,600,800,1000,1200,1400,1600,1800,2000,2100,2209],"range":["#08008a","#2e0098","#6600a8","#a000a8","#c4209c","#e6408a","#ff5a68","#ff7c4e","#ffa028","#ffc400","#ffe000","#e8fa00"]},"legend":null}
},
"layer":[
{"data":{"name":"plume"},
"transform":[{"lookup":"s","from":{"data":{"name":"stations"},"key":"s","fields":["x","y"]}}],
"mark":{"type":"trail","clip":true},
"encoding":{"detail":{"field":"T"},"size":{"field":"w","type":"quantitative","scale":{"domain":[0,100],"range":[0,440]},"legend":null}}},
{"data":{"name":"cut"},
"mark":{"type":"line","clip":true,"strokeWidth":352,"strokeCap":"butt"}}
]},
{"width":106,"height":2106,
"data":{"name":"bar"},
"mark":{"type":"rect","clip":true},
"encoding":{
"y":{"field":"a","type":"quantitative","title":"Temperature (K)","scale":{"domain":[284,2209],"nice":false,"zero":false},"axis":{"orient":"right","values":[400,600,800,1000,1200,1400,1600,1800,2000,2200],"format":"d","labelPadding":22,"labelOffset":5,"titleAngle":90,"titlePadding":62}},
"y2":{"field":"b"},
"color":{"field":"a","type":"quantitative","scale":{"domain":[284,400,600,800,1000,1200,1400,1600,1800,2000,2100,2209],"range":["#08008a","#2e0098","#6600a8","#a000a8","#c4209c","#e6408a","#ff5a68","#ff7c4e","#ffa028","#ffc400","#ffe000","#e8fa00"]},"legend":null}
}}
]
}
